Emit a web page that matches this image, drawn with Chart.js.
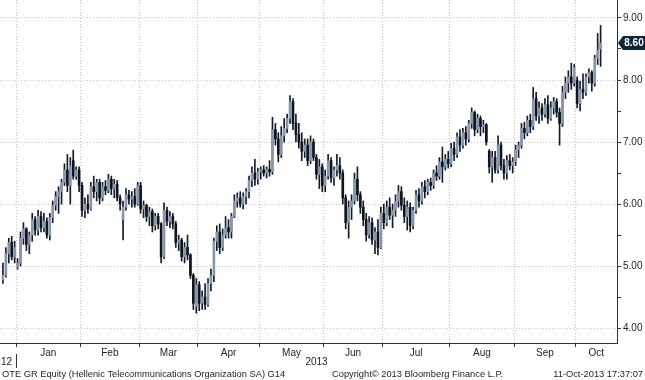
<!DOCTYPE html>
<html><head><meta charset="utf-8">
<script src="https://cdn.jsdelivr.net/npm/chart.js@4.4.0/dist/chart.umd.min.js"></script>
<style>html,body{margin:0;padding:0;background:#fff;}canvas{display:block;}</style>
</head><body>
<canvas id="c" width="645" height="380"></canvas>
<script>
// trading-day index of the first bar (Dec 2012 tail)
const firstDay = -5;
const monthNames = ['Jan','Feb','Mar','Apr','May','Jun','Jul','Aug','Sep','Oct'];
const monthStarts = [0,22,42,62,83,105,125,148,170,191];
const priceTicks = [4,4.5,5,5.5,6,6.5,7,7.5,8,8.5,9];
const yearLabels = ['12','2013'];
const footerTexts = ['OTE GR Equity (Hellenic Telecommunications Organization SA) G14','Copyright\u00A9 2013 Bloomberg Finance L.P.','11-Oct-2013 17:37:07'];

const opens = [
 4.78,4.85,5.20,5.38,5.15,
 4.98,5.05,5.45,5.60,5.35,5.50,5.75,5.58,5.80,5.62,5.72,5.50,5.78,5.98,6.12,6.20,6.35,6.55,6.30,6.70,6.45,6.55,
 6.30,5.90,6.00,5.92,6.28,6.20,6.35,6.10,6.28,6.22,6.40,6.25,6.32,6.10,5.75,5.95,6.15,6.08,6.12,6.00,
 6.30,5.92,5.98,5.80,5.88,5.65,5.80,5.68,5.15,5.90,5.72,5.80,5.68,5.38,5.42,5.15,5.30,5.18,4.85,4.35,
 4.70,4.40,4.50,4.38,4.72,4.85,5.40,5.55,5.30,5.50,5.62,5.55,5.80,6.05,6.10,6.00,6.12,6.20,6.38,6.50,6.40,
 6.52,6.55,6.50,6.56,6.52,7.20,7.05,6.80,7.10,7.22,7.38,7.65,7.30,7.12,7.00,6.85,6.95,6.70,7.00,6.75,6.48,6.60,
 6.30,6.45,6.70,6.42,6.55,6.62,6.50,6.10,5.70,5.95,6.05,6.40,6.15,5.95,5.75,5.50,5.70,5.42,5.55,5.30,
 5.85,5.70,5.95,5.82,5.90,6.05,6.20,5.98,5.80,5.95,5.65,5.90,6.15,6.05,6.28,6.20,6.35,6.30,6.50,6.45,6.68,6.60,6.72,
 6.65,6.90,6.80,7.08,6.95,7.15,7.05,7.30,7.48,7.20,7.38,7.25,7.28,6.85,6.60,6.75,6.55,6.95,6.62,6.50,6.70,6.62,
 6.68,6.88,6.95,7.22,7.15,7.35,7.25,7.70,7.42,7.55,7.45,7.60,7.38,7.55,7.65,7.48,7.30,7.80,7.95,8.05,7.95,
 8.00,7.62,7.85,7.80,8.05,8.12,7.95,8.35,8.50
];
const highs = [
 5.05,5.30,5.45,5.48,5.40,
 5.12,5.55,5.70,5.62,5.55,5.85,5.80,5.90,5.88,5.85,5.78,5.85,6.05,6.20,6.28,6.40,6.65,6.80,6.75,6.87,6.60,6.60,
 6.35,6.10,6.15,6.35,6.45,6.40,6.40,6.35,6.38,6.48,6.45,6.40,6.38,6.15,6.05,6.25,6.22,6.20,6.25,6.35,
 6.35,6.05,6.00,5.95,5.92,5.85,5.85,5.70,6.02,5.95,5.88,5.85,5.72,5.50,5.45,5.38,5.50,5.20,4.88,4.80,
 4.75,4.60,4.72,4.80,4.95,5.45,5.65,5.68,5.60,5.80,5.75,5.85,6.15,6.18,6.20,6.18,6.25,6.45,6.60,6.72,6.58,
 6.60,6.62,6.60,6.70,7.40,7.30,7.15,7.25,7.38,7.45,7.75,7.70,7.45,7.30,7.15,7.05,7.05,7.10,7.05,6.80,6.72,6.65,
 6.55,6.80,6.75,6.60,6.80,6.75,6.55,6.15,6.05,6.15,6.50,6.60,6.20,6.05,5.85,5.80,5.78,5.62,5.75,5.95,
 6.00,6.05,6.10,6.00,6.15,6.30,6.28,6.10,6.05,6.02,5.95,6.22,6.25,6.35,6.38,6.40,6.42,6.55,6.62,6.75,6.92,6.80,6.85,
 6.98,7.00,7.15,7.20,7.22,7.25,7.35,7.55,7.50,7.45,7.42,7.35,7.30,6.88,6.85,6.85,7.10,7.00,6.72,6.78,6.80,6.75,
 6.95,7.00,7.30,7.32,7.42,7.45,7.88,7.80,7.65,7.62,7.70,7.75,7.65,7.72,7.70,7.55,7.90,8.05,8.15,8.27,8.25,
 8.05,7.98,8.10,8.10,8.18,8.15,8.40,8.75,8.88
];
const lows = [
 4.72,4.82,5.05,5.10,5.05,
 4.95,5.00,5.35,5.25,5.20,5.40,5.50,5.50,5.55,5.55,5.45,5.42,5.70,5.90,5.85,6.00,6.30,6.20,6.00,6.40,6.40,6.20,
 5.80,5.78,5.85,5.90,6.10,6.05,6.00,6.05,6.15,6.18,6.15,6.10,6.05,5.90,5.42,5.90,6.00,5.95,5.95,5.98,
 5.85,5.78,5.72,5.65,5.55,5.58,5.60,5.05,5.12,5.65,5.62,5.60,5.30,5.25,5.08,5.05,5.10,4.80,4.30,4.24,
 4.28,4.30,4.30,4.35,4.60,4.75,5.25,5.20,5.25,5.45,5.45,5.45,5.78,5.95,5.95,5.92,6.00,6.10,6.28,6.30,6.32,
 6.40,6.45,6.42,6.45,6.48,6.95,6.68,6.75,7.00,7.15,7.30,7.20,7.00,6.90,6.70,6.75,6.62,6.65,6.70,6.40,6.25,6.20,
 6.20,6.40,6.35,6.30,6.45,6.40,6.00,5.60,5.45,5.75,6.00,6.05,5.85,5.65,5.40,5.45,5.35,5.20,5.18,5.28,
 5.60,5.65,5.75,5.62,5.80,5.95,5.90,5.70,5.58,5.55,5.60,5.85,5.95,6.00,6.10,6.15,6.22,6.25,6.38,6.40,6.35,6.55,6.58,
 6.60,6.70,6.75,6.85,6.90,6.95,7.00,7.22,7.10,7.15,7.10,7.15,6.95,6.50,6.35,6.50,6.50,6.55,6.40,6.40,6.55,6.50,
 6.62,6.75,6.90,7.05,7.10,7.15,7.20,7.35,7.30,7.35,7.40,7.30,7.35,7.45,7.40,6.95,7.25,7.70,7.80,7.85,7.90,
 7.55,7.50,7.70,7.75,7.95,7.82,7.90,8.25,8.22
];
const closes = [
 4.85,5.20,5.38,5.15,5.30,
 5.05,5.45,5.60,5.35,5.50,5.75,5.58,5.80,5.62,5.72,5.50,5.78,5.98,6.12,6.20,6.35,6.55,6.30,6.62,6.45,6.55,6.30,
 5.90,6.00,5.92,6.28,6.20,6.35,6.10,6.28,6.22,6.40,6.25,6.32,6.10,6.00,5.95,6.15,6.08,6.12,6.00,6.30,
 5.92,5.98,5.80,5.88,5.65,5.80,5.68,5.15,5.90,5.72,5.80,5.68,5.38,5.42,5.15,5.30,5.18,4.85,4.40,4.70,
 4.40,4.50,4.38,4.72,4.85,5.40,5.55,5.30,5.50,5.62,5.55,5.80,6.05,6.10,6.00,6.12,6.20,6.38,6.50,6.40,6.52,
 6.55,6.50,6.56,6.52,7.20,7.05,6.80,7.10,7.22,7.38,7.65,7.30,7.12,7.00,6.85,6.95,6.70,7.00,6.75,6.48,6.60,6.30,
 6.45,6.70,6.42,6.55,6.62,6.50,6.10,5.70,5.95,6.05,6.40,6.15,5.95,5.75,5.50,5.70,5.42,5.55,5.30,5.85,
 5.70,5.95,5.82,5.90,6.05,6.20,5.98,5.80,5.95,5.65,5.90,6.15,6.05,6.28,6.20,6.35,6.30,6.50,6.45,6.68,6.60,6.72,6.65,
 6.90,6.80,7.08,6.95,7.15,7.05,7.30,7.48,7.20,7.38,7.25,7.28,7.00,6.60,6.75,6.55,6.95,6.62,6.50,6.70,6.62,6.68,
 6.88,6.95,7.22,7.15,7.35,7.25,7.70,7.42,7.55,7.45,7.60,7.38,7.55,7.65,7.48,7.30,7.80,7.95,8.05,7.95,8.20,
 7.62,7.85,7.80,8.05,8.12,7.95,8.35,8.48,8.60
];

const X_MIN = -6, X_MAX = 204.6;
const boundaries = monthStarts.map(s => s - 0.5);
const edges = boundaries.concat([X_MAX]);
const mids = monthNames.map((_, m) => (edges[m] + edges[m + 1]) / 2);
const xTickVals = [], xTickKinds = [], xTickText = [];
boundaries.forEach(b => { xTickVals.push(b); xTickKinds.push('b'); xTickText.push(''); });
mids.forEach((v, m) => { xTickVals.push(v); xTickKinds.push('m'); xTickText.push(monthNames[m]); });
const order = xTickVals.map((v, i) => i).sort((a, b) => xTickVals[a] - xTickVals[b]);
const xTicksSorted = order.map(i => ({ v: xTickVals[i], k: xTickKinds[i], t: xTickText[i] }));

const xs = opens.map((_, k) => firstDay + k);
const wickData = xs.map((x, k) => ({ x, y: [lows[k], highs[k]] }));
const bodyData = xs.map((x, k) => ({ x, y: [Math.min(opens[k], closes[k]), Math.max(opens[k], closes[k])] }));
const bodyColors = xs.map((_, k) => closes[k] >= opens[k] ? '#8796aa' : '#0d1620');

const FONT = '"Liberation Sans", Arial, sans-serif';
const TXT = '#1e1e1e';
const GRID = '#c4c4c4';

function noPad(s) { s.paddingTop = 0; s.paddingBottom = 0; s.paddingLeft = 0; s.paddingRight = 0; }

const extras = {
  id: 'extras',
  afterDraw(chart) {
    const ctx = chart.ctx, sx = chart.scales.x, sy = chart.scales.y;
    ctx.save();
    ctx.fillStyle = TXT;
    ctx.font = '10px ' + FONT;
    ctx.textBaseline = 'middle';
    // year row
    ctx.textAlign = 'left';
    ctx.fillText(yearLabels[0], 1, 362);
    ctx.textAlign = 'center';
    ctx.fillText(yearLabels[1], sx.getPixelForValue((boundaries[0] + X_MAX) / 2), 362);
    const sepX = Math.round(sx.getPixelForValue(boundaries[0])) + 0.5;
    ctx.strokeStyle = '#333'; ctx.lineWidth = 1;
    ctx.beginPath(); ctx.moveTo(sepX, 354); ctx.lineTo(sepX, 368); ctx.stroke();
    // footer
    ctx.font = '9.3px ' + FONT;
    ctx.textAlign = 'left';
    ctx.fillText(footerTexts[0], 2, 374.5);
    ctx.fillText(footerTexts[1], 332, 374.5);
    ctx.textAlign = 'right';
    ctx.fillText(footerTexts[2], 643, 374.5);
    // last price box
    const last = closes[closes.length - 1];
    const py = Math.round(sy.getPixelForValue(last));
    const ax = chart.chartArea.right + 1;
    ctx.fillStyle = '#13253a';
    ctx.beginPath();
    ctx.moveTo(ax, py);
    ctx.lineTo(ax + 5, py - 7);
    ctx.lineTo(645, py - 7);
    ctx.lineTo(645, py + 7);
    ctx.lineTo(ax + 5, py + 7);
    ctx.closePath();
    ctx.fill();
    ctx.fillStyle = '#ffffff';
    ctx.font = 'bold 10px ' + FONT;
    ctx.textAlign = 'center';
    ctx.fillText(last.toFixed(2), 634, py + 0.5);
    ctx.restore();
  }
};

new Chart(document.getElementById('c'), {
  type: 'bar',
  data: {
    datasets: [
      { data: bodyData, backgroundColor: bodyColors, barThickness: 2, minBarLength: 1, grouped: false, order: 0, borderWidth: 0 },
      { data: wickData, backgroundColor: '#131c27', barThickness: 1, grouped: false, order: 1, borderWidth: 0 }
    ]
  },
  options: {
    responsive: false,
    devicePixelRatio: 1,
    animation: false,
    layout: { padding: 0, autoPadding: false },
    plugins: { legend: { display: false }, tooltip: { enabled: false } },
    scales: {
      x: {
        type: 'linear', min: X_MIN, max: X_MAX, offset: false,
        afterBuildTicks: s => { s.ticks = xTicksSorted.map(t => ({ value: t.v })); },
        afterFit: s => { s.height = 37; noPad(s); },
        grid: {
          offset: false,
          color: c => (xTicksSorted[c.index] && xTicksSorted[c.index].k === 'b') ? GRID : 'rgba(0,0,0,0)',
          tickColor: c => (xTicksSorted[c.index] && xTicksSorted[c.index].k === 'b') ? '#333' : 'rgba(0,0,0,0)',
          tickLength: 4, lineWidth: 1
        },
        border: { color: '#333', dash: [1, 2] },
        ticks: {
          autoSkip: false, maxRotation: 0, minRotation: 0, padding: 0,
          color: TXT, font: { family: FONT, size: 10 },
          callback: (v, i) => xTicksSorted[i] ? xTicksSorted[i].t : ''
        }
      },
      y: {
        type: 'linear', position: 'right', min: 3.76, max: 9.29,
        afterBuildTicks: s => { s.ticks = priceTicks.map(v => ({ value: v })); },
        afterFit: s => { s.width = 28; noPad(s); },
        grid: {
          color: c => (c.tick && Number.isInteger(c.tick.value)) ? GRID : 'rgba(0,0,0,0)',
          tickColor: '#333', tickLength: 4, lineWidth: 1
        },
        border: { color: '#333', dash: [1, 2] },
        ticks: {
          padding: 2, color: TXT, font: { family: FONT, size: 10 },
          callback: v => Number.isInteger(v) ? v.toFixed(2) : ''
        }
      }
    }
  },
  plugins: [extras]
});
</script>
</body></html>
